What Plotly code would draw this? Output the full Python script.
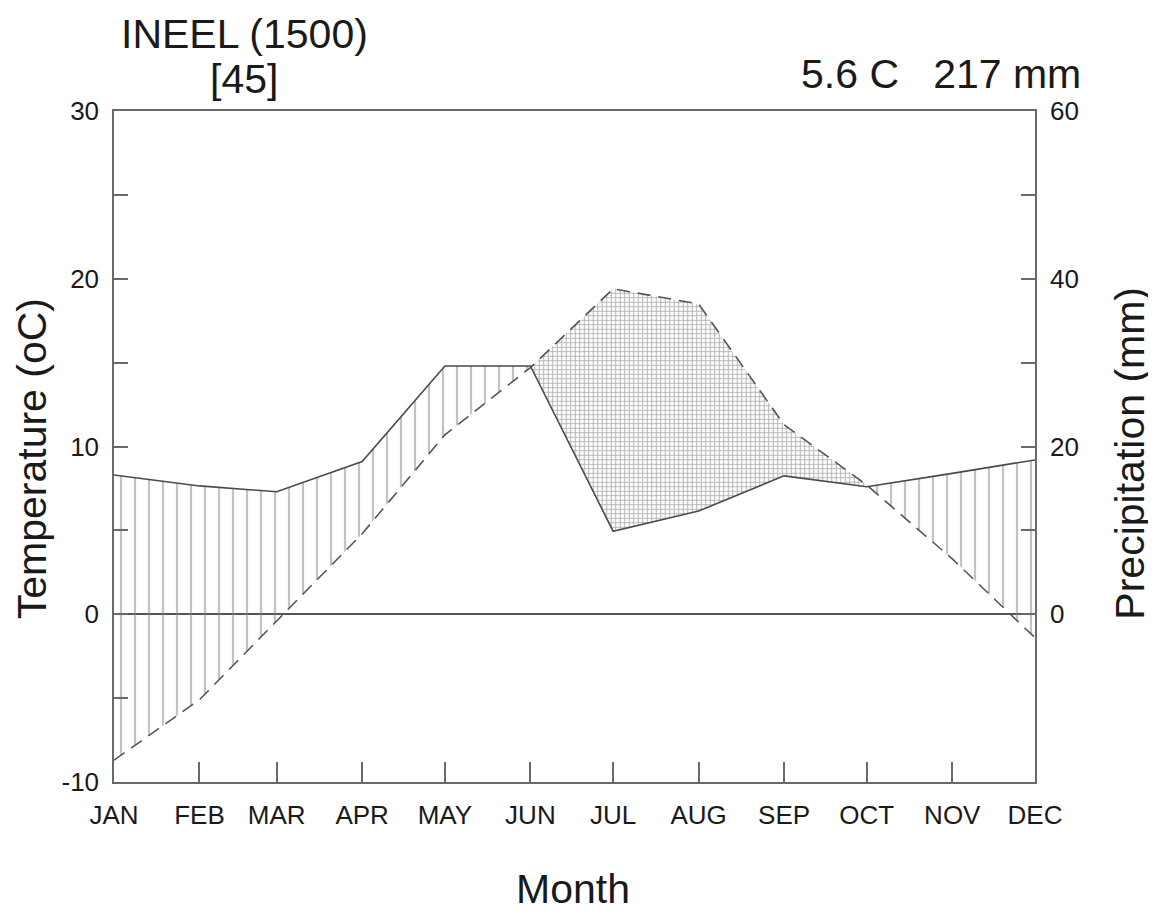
import numpy as np
import plotly.graph_objects as go

# ---- data ----
months = ["JAN", "FEB", "MAR", "APR", "MAY", "JUN", "JUL", "AUG", "SEP", "OCT", "NOV", "DEC"]
month_day = [15, 46, 74, 105, 135, 166, 196, 227, 258, 288, 319, 349]  # mid-month day of year
temp_c = [-8.7, -5.1, -0.4, 4.8, 10.7, 14.7, 19.4, 18.5, 11.3, 7.7, 3.3, -1.4]
precip_mm = [16.6, 15.3, 14.6, 18.2, 29.6, 29.6, 9.9, 12.3, 16.5, 15.2, 16.8, 18.4]
temp_ticks = [-10, -5, 0, 5, 10, 15, 20, 25, 30]
precip_ticks = [0, 10, 20, 30, 40, 50, 60]

station = "INEEL (1500)"
years = "[45]"
summary = "5.6 C   217 mm"

# ---- build fill polygons (precip plotted at half scale on temperature axis) ----
x = np.array(month_day, dtype=float)
t = np.array(temp_c, dtype=float)
p2 = np.array(precip_mm, dtype=float) / 2.0
xa, ta, pa = [], [], []
for i in range(len(x)):
    xa.append(x[i]); ta.append(t[i]); pa.append(p2[i])
    if i < len(x) - 1:
        d0 = p2[i] - t[i]
        d1 = p2[i + 1] - t[i + 1]
        if d0 * d1 < 0:
            f = d0 / (d0 - d1)
            xc = x[i] + f * (x[i + 1] - x[i])
            tc = t[i] + f * (t[i + 1] - t[i])
            xa.append(xc); ta.append(tc); pa.append(tc)
xa = np.array(xa); ta = np.array(ta); pa = np.array(pa)
humid_top = np.maximum(pa, ta)
arid_top = np.maximum(ta, pa)

fig = go.Figure()
invisible = dict(width=0, color="rgba(0,0,0,0)")

# humid area: vertical hatching between temperature and precipitation
fig.add_trace(go.Scatter(x=xa, y=ta, mode="lines", line=invisible, hoverinfo="skip", showlegend=False))
fig.add_trace(go.Scatter(x=xa, y=humid_top, mode="lines", line=invisible, fill="tonexty",
                         fillcolor="rgba(0,0,0,0)",
                         fillpattern=dict(shape="|", size=14, solidity=0.16, fgcolor="#888888",
                                          bgcolor="rgba(0,0,0,0)", fillmode="overlay"),
                         hoverinfo="skip", showlegend=False))
# arid area: dotted pattern
fig.add_trace(go.Scatter(x=xa, y=pa, mode="lines", line=invisible, hoverinfo="skip", showlegend=False))
fig.add_trace(go.Scatter(x=xa, y=arid_top, mode="lines", line=invisible, fill="tonexty",
                         fillcolor="rgba(0,0,0,0)",
                         fillpattern=dict(shape="+", size=4.5, solidity=0.4, fgcolor="#666666",
                                          bgcolor="rgba(0,0,0,0)", fillmode="overlay"),
                         hoverinfo="skip", showlegend=False))

# temperature (dashed)
fig.add_trace(go.Scatter(x=month_day, y=temp_c, mode="lines",
                         line=dict(color="#555555", width=1.6, dash="13px,8px"),
                         showlegend=False))
# precipitation (solid, right axis)
fig.add_trace(go.Scatter(x=month_day, y=precip_mm, mode="lines", yaxis="y2",
                         line=dict(color="#4a4a4a", width=1.6),
                         showlegend=False))

tick_font = dict(family="Liberation Sans, Arial, sans-serif", size=26, color="#1a1a1a")
title_font = dict(family="Liberation Sans, Arial, sans-serif", size=41, color="#1a1a1a")
axis_col = "#6a6a6a"

fig.update_layout(
    width=1156, height=914,
    paper_bgcolor="white", plot_bgcolor="white",
    margin=dict(l=106, r=129, t=103, b=140),
    font=tick_font,
    xaxis=dict(range=[month_day[0], month_day[-1]], tickvals=month_day, ticktext=months,
               ticks="inside", ticklen=20, tickwidth=1.5, tickcolor=axis_col,
               showline=True, linecolor=axis_col, linewidth=1.5, mirror=True,
               showgrid=False, zeroline=False, tickfont=tick_font, ticklabelstandoff=9),
    yaxis=dict(range=[-10, 30], tickvals=temp_ticks,
               ticktext=[str(v) if v % 10 == 0 else "" for v in temp_ticks],
               ticks="inside", ticklen=14, tickwidth=1.5, tickcolor=axis_col,
               showline=True, linecolor=axis_col, linewidth=1.5, mirror=True,
               showgrid=False, zeroline=True, zerolinecolor="#555555", zerolinewidth=1.6,
               tickfont=tick_font, ticklabelstandoff=8),
    yaxis2=dict(range=[-20, 60], overlaying="y", side="right", tickvals=precip_ticks,
                ticktext=[str(v) if v % 20 == 0 else "" for v in precip_ticks],
                ticks="inside", ticklen=14, tickwidth=1.5, tickcolor=axis_col,
                showline=True, linecolor=axis_col, linewidth=1.5,
                showgrid=False, zeroline=False, tickfont=tick_font, ticklabelstandoff=8),
    annotations=[
        dict(text=station, xref="paper", yref="paper", x=0.1416, y=1.1148,
             xanchor="center", yanchor="middle", showarrow=False, font=title_font),
        dict(text=years, xref="paper", yref="paper", x=0.1416, y=1.0477,
             xanchor="center", yanchor="middle", showarrow=False, font=title_font),
        dict(text=summary, xref="paper", yref="paper", x=1.0525, y=1.0551,
             xanchor="right", yanchor="middle", showarrow=False, font=title_font),
        dict(text="Temperature (oC)", xref="paper", yref="paper", x=-0.089, y=0.481,
             xanchor="center", yanchor="middle", textangle=-90, showarrow=False,
             font=title_font),
        dict(text="Precipitation (mm)", xref="paper", yref="paper", x=1.1036, y=0.49,
             xanchor="center", yanchor="middle", textangle=-90, showarrow=False, font=title_font),
        dict(text="Month", xref="paper", yref="paper", x=0.4988, y=-0.159,
             xanchor="center", yanchor="middle", showarrow=False, font=title_font),
    ],
)

fig.write_html("out.html")
